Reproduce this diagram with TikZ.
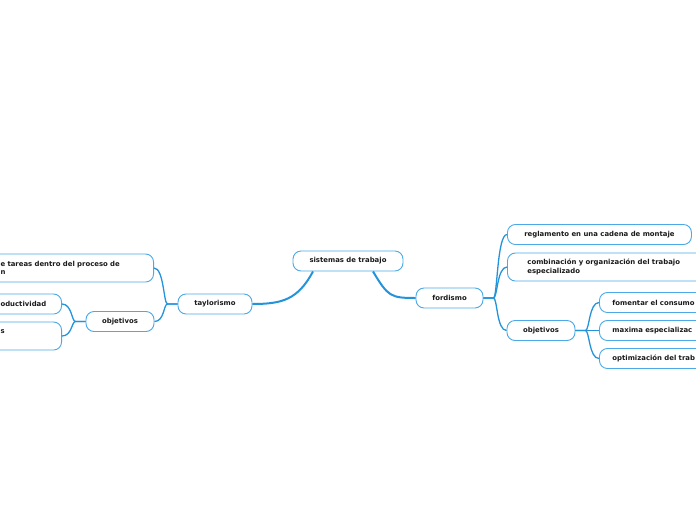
\documentclass[tikz,border=0pt]{standalone}
\usepackage{fontspec}
\setmainfont{DejaVu Sans}
\definecolor{LineBlue}{HTML}{2394DB}
\definecolor{EdgeBlue}{HTML}{4AA9E6}
\definecolor{TextDark}{HTML}{1A1A1A}

\begin{document}
\begin{tikzpicture}[
  x=1pt, y=-1pt,
  box/.style={draw=EdgeBlue, line width=0.9pt, rounded corners=8pt, fill=white, text=TextDark, font=\bfseries\fontsize{6.9}{8.3}\selectfont, inner xsep=16pt, inner ysep=0pt, minimum height=20pt},
  wide/.style={box, minimum height=28pt, align=left},
  leaf/.style={box, anchor=west, text width=110pt, align=left, inner xsep=13pt},
  link/.style={draw=LineBlue, line width=1.3pt}
]
\useasboundingbox (0,0) rectangle (696,520);
\clip (0,0) rectangle (696,520);

\node[box, minimum width=110pt] (root) at (348,261) {sistemas de trabajo};
\node[box, minimum width=74pt] (tay) at (215,304) {taylorismo};
\node[box, minimum width=67pt] (ford) at (449.5,298) {fordismo};

% taylorismo side
\node[box, minimum width=68pt] (tobj) at (120,321.5) {objetivos};
\node[wide, anchor=east, text width=137pt] (tdiv) at (154,268) {e tareas dentro del proceso de\\n};
\node[box, anchor=east, text width=45pt, align=right] (tprod) at (62,304) {oductividad};
\node[wide, anchor=east, text width=45pt] (tmot) at (62,336) {s\\~};

% fordismo side
\node[box, anchor=west, minimum width=184pt] (fcad) at (507,234.5) {reglamento en una cadena de montaje};
\node[wide, anchor=west, text width=170pt, inner xsep=20pt] (fcomb) at (507,267) {combinación y organización del trabajo\\especializado};
\node[box, minimum width=68pt] (fobj) at (541,330.5) {objetivos};
\node[leaf] (fcons) at (599,302.5) {fomentar el consumo};
\node[leaf] (fesp) at (599,330.5) {maxima especializac};
\node[leaf] (fopt) at (599,358.5) {optimización del trab};

\draw[link, line width=2pt] ([xshift=-35pt]root.south) .. controls +(-15,28) and +(30,0) .. (tay.east);
\draw[link, line width=2pt] ([xshift=25pt]root.south) .. controls +(15,25) and +(-25,0) .. (ford.west);

\foreach \c in {tdiv,tobj}
  \draw[link] (tay.west) -- ++(-10,0) .. controls +(-4,0) and +(10,0) .. (\c.east);
\foreach \c in {tprod,tmot}
  \draw[link] (tobj.west) -- ++(-10,0) .. controls +(-4,0) and +(10,0) .. (\c.east);
\foreach \c in {fcad,fcomb,fobj}
  \draw[link] (ford.east) -- ++(10,0) .. controls +(4,0) and +(-10,0) .. (\c.west);
\foreach \c in {fcons,fesp,fopt}
  \draw[link] (fobj.east) -- ++(10,0) .. controls +(4,0) and +(-10,0) .. (\c.west);
\end{tikzpicture}
\end{document}
